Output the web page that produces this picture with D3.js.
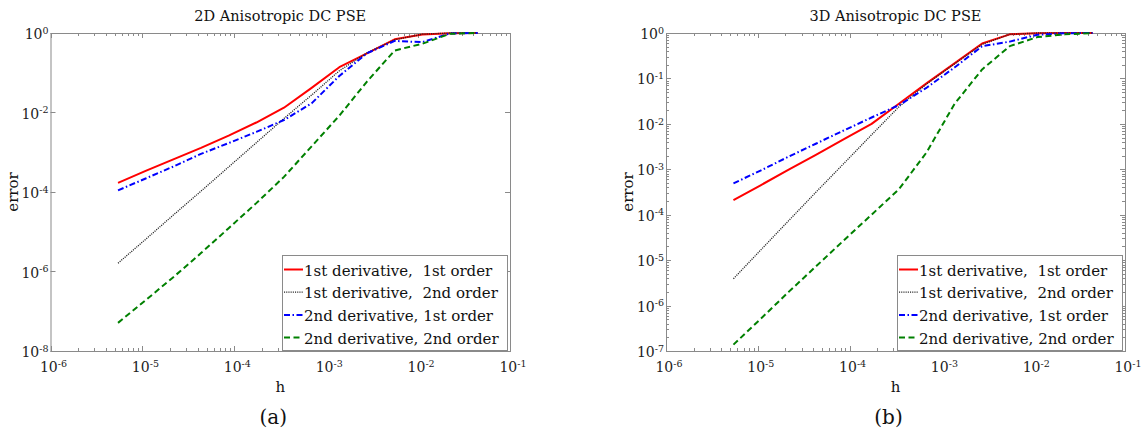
<!DOCTYPE html>
<html>
<head>
<meta charset="utf-8">
<script src="https://cdn.jsdelivr.net/npm/d3@7/dist/d3.min.js"></script>
<style>
  body { margin: 0; background: #fff; }
  svg { display: block; font-family: "DejaVu Serif", serif; }
  .leg text { white-space: pre; }
</style>
</head>
<body>
<div id="chart"></div>
<script>
// grid spacing h (halved each refinement)
const hValues = [5.43e-6, 1.085e-5, 2.17e-5, 4.34e-5, 8.68e-5, 1.736e-4, 3.47e-4,
                 6.94e-4, 1.389e-3, 2.778e-3, 5.556e-3, 1.111e-2, 2.222e-2, 4.444e-2];

const seriesNames = ['1st derivative,  1st order', '1st derivative,  2nd order',
                     '2nd derivative, 1st order', '2nd derivative, 2nd order'];

// 2D panel errors
const err2d_d1o1 = [1.7e-4, 3.4e-4, 6.6e-4, 1.29e-3, 2.63e-3, 5.6e-3, 1.32e-2, 4.17e-2, 0.138, 0.309, 0.692, 0.912, 0.989, 1.0];
const err2d_d1o2 = [1.62e-6, 6.46e-6, 2.63e-5, 1.05e-4, 4.27e-4, 1.74e-3, 7.08e-3, 2.75e-2, 0.112, 0.316, 0.676, 0.933, 1.0, 1.0];
const err2d_d2o1 = [1.1e-4, 2.19e-4, 4.37e-4, 9.1e-4, 1.7e-3, 3.24e-3, 6.46e-3, 1.7e-2, 8.3e-2, 0.309, 0.631, 0.589, 0.977, 1.0];
const err2d_d2o2 = [5.1e-8, 1.9e-7, 7.2e-7, 2.9e-6, 1.23e-5, 5.25e-5, 2.4e-4, 1.41e-3, 8.3e-3, 6.0e-2, 0.363, 0.537, 0.955, 1.0];

// 3D panel errors
const err3d_d1o1 = [2.1e-4, 4.5e-4, 9.8e-4, 2.1e-3, 4.6e-3, 1.0e-2, 2.8e-2, 7.9e-2, 0.214, 0.589, 0.933, 0.989, 1.0, 1.0];
const err3d_d1o2 = [3.9e-6, 1.7e-5, 7.4e-5, 3.2e-4, 1.35e-3, 5.75e-3, 2.4e-2, 7.6e-2, 0.209, 0.562, 0.933, 1.0, 1.0, 1.0];
const err3d_d2o1 = [4.9e-4, 9.5e-4, 1.9e-3, 3.7e-3, 7.2e-3, 1.38e-2, 2.6e-2, 6.3e-2, 0.174, 0.513, 0.646, 0.912, 0.989, 1.0];
const err3d_d2o2 = [1.38e-7, 5.2e-7, 2.0e-6, 7.4e-6, 2.75e-5, 1.0e-4, 3.7e-4, 2.4e-3, 2.75e-2, 0.158, 0.513, 0.813, 0.933, 1.0];

// tick labels (exponents of 10)
const xTickExp = [-6, -5, -4, -3, -2, -1];
const yTickExp2d = [0, -2, -4, -6, -8];
const yTickExp3d = [0, -1, -2, -3, -4, -5, -6, -7];

const lineStyles = [
    { color: '#ff0000', width: 2,   dash: null },
    { color: '#222222', width: 1.3, dash: '1.1,1.1' },
    { color: '#0000ff', width: 2,   dash: '6,2.5,1.5,2.5' },
    { color: '#008000', width: 2,   dash: '6,3.5' }
];

const svg = d3.select('#chart').append('svg')
    .attr('width', 1145)
    .attr('height', 433);

function supLabel(sel, exp) {
    sel.text('');
    sel.append('tspan').text('10');
    sel.append('tspan').attr('dy', '-0.55em').attr('font-size', '9.5px').text(String(exp));
}

function drawPanel(cfg) {
    const x = d3.scaleLog().domain([1e-6, 1e-1]).range([cfg.left, cfg.right]);
    const y = d3.scaleLog().domain([Math.pow(10, cfg.yMinExp), 1]).range([cfg.bottom, cfg.top]);
    const g = svg.append('g');
    const axisColor = '#8a8a8a';

    // minor + major ticks along x (bottom and top, pointing inwards)
    const xMinor = [];
    for (let e = -6; e < -1; e++) {
        for (let m = 2; m <= 9; m++) xMinor.push(m * Math.pow(10, e));
    }
    const xMajor = xTickExp.map(e => Math.pow(10, e));

    const tickG = g.append('g').attr('stroke', axisColor).attr('stroke-width', 1);
    xMinor.forEach(v => {
        const px = Math.round(x(v)) + 0.5;
        tickG.append('line').attr('x1', px).attr('x2', px).attr('y1', cfg.bottom).attr('y2', cfg.bottom - 3);
        tickG.append('line').attr('x1', px).attr('x2', px).attr('y1', cfg.top).attr('y2', cfg.top + 3);
    });
    xMajor.forEach(v => {
        const px = Math.round(x(v)) + 0.5;
        tickG.append('line').attr('x1', px).attr('x2', px).attr('y1', cfg.bottom).attr('y2', cfg.bottom - 5);
        tickG.append('line').attr('x1', px).attr('x2', px).attr('y1', cfg.top).attr('y2', cfg.top + 5);
    });

    // y ticks
    const yMajor = cfg.yTicks.map(e => Math.pow(10, e));
    yMajor.forEach(v => {
        const py = Math.round(y(v)) + 0.5;
        tickG.append('line').attr('x1', cfg.left).attr('x2', cfg.left + 5).attr('y1', py).attr('y2', py);
        tickG.append('line').attr('x1', cfg.right).attr('x2', cfg.right - 5).attr('y1', py).attr('y2', py);
    });
    if (cfg.yMinor) {
        for (let e = cfg.yMinExp; e < 0; e++) {
            for (let m = 2; m <= 9; m++) {
                const py = Math.round(y(m * Math.pow(10, e))) + 0.5;
                tickG.append('line').attr('x1', cfg.left).attr('x2', cfg.left + 3).attr('y1', py).attr('y2', py);
                tickG.append('line').attr('x1', cfg.right).attr('x2', cfg.right - 3).attr('y1', py).attr('y2', py);
            }
        }
    }

    // box
    g.append('rect')
        .attr('x', cfg.left + 0.5).attr('y', cfg.top + 0.5)
        .attr('width', cfg.right - cfg.left).attr('height', cfg.bottom - cfg.top)
        .attr('fill', 'none').attr('stroke', axisColor).attr('stroke-width', 1);

    // tick labels
    xMajor.forEach((v, i) => {
        const t = g.append('text')
            .attr('x', x(v) + 3).attr('y', cfg.bottom + 21)
            .attr('text-anchor', 'middle')
            .attr('font-size', '14px')
            .attr('fill', '#222');
        supLabel(t, xTickExp[i]);
    });
    yMajor.forEach((v, i) => {
        const t = g.append('text')
            .attr('x', cfg.left - 2).attr('y', y(v) + 6)
            .attr('text-anchor', 'end')
            .attr('font-size', '14px')
            .attr('fill', '#222');
        supLabel(t, cfg.yTicks[i]);
    });

    // axis labels and title
    g.append('text')
        .attr('x', (cfg.left + cfg.right) / 2).attr('y', cfg.bottom + 41)
        .attr('text-anchor', 'middle').attr('font-size', '15px').attr('fill', '#111')
        .text('h');
    g.append('text')
        .attr('transform', `translate(${cfg.left - cfg.ylabOffset},${(cfg.top + cfg.bottom) / 2}) rotate(-90)`)
        .attr('text-anchor', 'middle').attr('font-size', '15px').attr('fill', '#111')
        .text('error');
    g.append('text')
        .attr('x', (cfg.left + cfg.right) / 2).attr('y', cfg.top - 12)
        .attr('text-anchor', 'middle').attr('font-size', '14.5px').attr('fill', '#111')
        .text(cfg.title);
    g.append('text')
        .attr('x', (cfg.left + cfg.right) / 2 - 7).attr('y', 424)
        .attr('text-anchor', 'middle').attr('font-size', '20px').attr('fill', '#111')
        .text(cfg.caption);

    // series lines
    const line = d3.line()
        .x((d, i) => x(hValues[i]))
        .y(d => y(d));
    cfg.series.forEach((s, i) => {
        const st = lineStyles[i];
        g.append('path')
            .datum(s)
            .attr('d', line)
            .attr('fill', 'none')
            .attr('stroke', st.color)
            .attr('stroke-width', st.width)
            .attr('stroke-dasharray', st.dash)
            .attr('stroke-linejoin', 'round');
    });

    // legend
    const lg = g.append('g').attr('class', 'leg');
    const lx = cfg.legLeft, ly = 255, lw = 225, lh = 95;
    lg.append('rect')
        .attr('x', lx + 0.5).attr('y', ly + 0.5).attr('width', lw).attr('height', lh)
        .attr('fill', '#fff').attr('stroke', axisColor);
    seriesNames.forEach((name, i) => {
        const st = lineStyles[i];
        const ry = ly + 14.5 + i * 22.7;
        lg.append('line')
            .attr('x1', lx + 2).attr('x2', lx + 21).attr('y1', ry).attr('y2', ry)
            .attr('stroke', st.color).attr('stroke-width', st.width)
            .attr('stroke-dasharray', st.dash);
        lg.append('text')
            .attr('x', lx + 22).attr('y', ry + 6)
            .attr('font-size', '15px').attr('fill', '#111')
            .text(name);
    });
}

drawPanel({
    left: 50.5, right: 510, top: 33, bottom: 351,
    yMinExp: -8, yTicks: yTickExp2d, yMinor: false,
    ylabOffset: 33, legLeft: 282,
    title: '2D Anisotropic DC PSE', caption: '(a)',
    series: [err2d_d1o1, err2d_d1o2, err2d_d2o1, err2d_d2o2]
});

drawPanel({
    left: 666, right: 1125, top: 33, bottom: 351,
    yMinExp: -7, yTicks: yTickExp3d, yMinor: true,
    ylabOffset: 33, legLeft: 897,
    title: '3D Anisotropic DC PSE', caption: '(b)',
    series: [err3d_d1o1, err3d_d1o2, err3d_d2o1, err3d_d2o2]
});
</script>
</body>
</html>
